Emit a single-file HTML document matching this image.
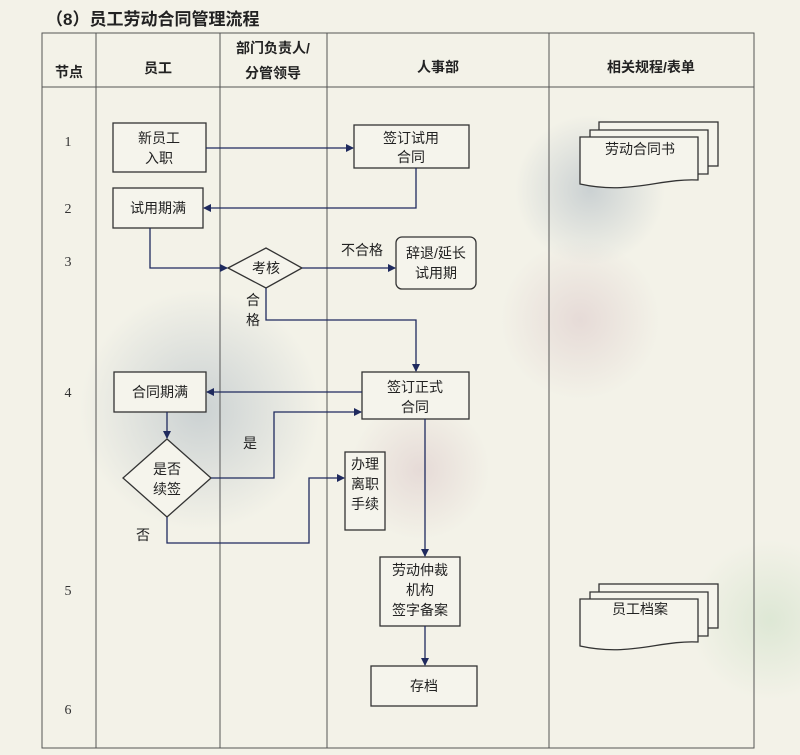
<!DOCTYPE html>
<html><head><meta charset="utf-8"><style>
body{margin:0;background:#f3f2e8;}
svg{display:block;font-family:"Liberation Sans","Noto Sans CJK SC",sans-serif;}
</style></head><body>
<svg width="800" height="755" viewBox="0 0 800 755">
<defs>
<marker id="a" markerWidth="8" markerHeight="8" refX="7" refY="4" orient="auto" markerUnits="userSpaceOnUse"><path d="M0,0 L8,4 L0,8 Z" fill="#1f2a5e"/></marker>
<radialGradient id="g1"><stop offset="0" stop-color="#9aa9b8" stop-opacity=".45"/><stop offset="1" stop-color="#9aa9b8" stop-opacity="0"/></radialGradient>
<radialGradient id="g2"><stop offset="0" stop-color="#d9c3c6" stop-opacity=".5"/><stop offset="1" stop-color="#d9c3c6" stop-opacity="0"/></radialGradient>
<radialGradient id="g3"><stop offset="0" stop-color="#cfe0c8" stop-opacity=".6"/><stop offset="1" stop-color="#cfe0c8" stop-opacity="0"/></radialGradient>
</defs>
<rect width="800" height="755" fill="#f3f2e8"/>
<circle cx="200" cy="410" r="120" fill="url(#g1)"/>
<circle cx="580" cy="320" r="80" fill="url(#g2)"/>
<circle cx="590" cy="190" r="75" fill="url(#g1)"/>
<circle cx="420" cy="470" r="70" fill="url(#g2)"/>
<circle cx="770" cy="620" r="80" fill="url(#g3)"/>
<text x="46" y="25" font-size="17" font-weight="bold" fill="#222">（8）员工劳动合同管理流程</text>
<g stroke="#555" stroke-width="1" fill="none">
<rect x="42" y="33" width="712" height="715"/>
<line x1="42" y1="87" x2="754" y2="87"/>
<line x1="96" y1="33" x2="96" y2="748"/>
<line x1="220" y1="33" x2="220" y2="748"/>
<line x1="327" y1="33" x2="327" y2="748"/>
<line x1="549" y1="33" x2="549" y2="748"/>
</g>
<g font-size="14" font-weight="bold" fill="#222" text-anchor="middle">
<text x="69" y="77">节点</text>
<text x="158" y="73">员工</text>
<text x="273" y="53">部门负责人/</text>
<text x="273" y="78">分管领导</text>
<text x="438" y="72">人事部</text>
<text x="651" y="72">相关规程/表单</text>
</g>
<g font-size="14" fill="#333" text-anchor="middle" font-family="Liberation Serif,serif">
<text x="68" y="146">1</text><text x="68" y="213">2</text><text x="68" y="266">3</text>
<text x="68" y="397">4</text><text x="68" y="595">5</text><text x="68" y="714">6</text>
</g>
<g stroke="#333" stroke-width="1.3" fill="#f5f4ec">
<rect x="113" y="123" width="93" height="49"/>
<rect x="354" y="125" width="115" height="43"/>
<rect x="113" y="188" width="90" height="40"/>
<polygon points="228,268 266,248 302,268 266,288"/>
<rect x="396" y="237" width="80" height="52" rx="6"/>
<rect x="362" y="372" width="107" height="47"/>
<rect x="114" y="372" width="92" height="40"/>
<polygon points="167,439 211,478 167,517 123,478"/>
<rect x="345" y="452" width="40" height="78"/>
<rect x="380" y="557" width="80" height="69"/>
<rect x="371" y="666" width="106" height="40"/>
<rect x="599" y="122" width="119" height="44"/>
<path d="M590,130 H708 V174 H590 Z"/>
<path d="M580,137 H698 V180 C660,178 630,195 580,184 Z"/>
<rect x="599" y="584" width="119" height="44"/>
<path d="M590,592 H708 V636 H590 Z"/>
<path d="M580,599 H698 V642 C660,640 630,657 580,646 Z"/>
</g>
<g stroke="#1f2a5e" stroke-width="1.3" fill="none" marker-end="url(#a)">
<line x1="206" y1="148" x2="353" y2="148"/>
<polyline points="416,168 416,208 204,208"/>
<polyline points="150,228 150,268 227,268"/>
<line x1="302" y1="268" x2="395" y2="268"/>
<polyline points="266,288 266,320 416,320 416,371"/>
<line x1="362" y1="392" x2="207" y2="392"/>
<line x1="167" y1="412" x2="167" y2="438"/>
<polyline points="211,478 274,478 274,412 361,412"/>
<polyline points="167,517 167,543 309,543 309,478 344,478"/>
<line x1="425" y1="419" x2="425" y2="556"/>
<line x1="425" y1="626" x2="425" y2="665"/>
</g>
<g font-size="14" fill="#222" text-anchor="middle">
<text x="159" y="143">新员工</text><text x="159" y="163">入职</text>
<text x="411" y="143">签订试用</text><text x="411" y="162">合同</text>
<text x="158" y="213">试用期满</text>
<text x="266" y="273">考核</text>
<text x="436" y="258">辞退/延长</text><text x="436" y="278">试用期</text>
<text x="362" y="255">不合格</text>
<text x="253" y="305">合</text><text x="253" y="325">格</text>
<text x="415" y="392">签订正式</text><text x="415" y="412">合同</text>
<text x="160" y="397">合同期满</text>
<text x="167" y="474">是否</text><text x="167" y="494">续签</text>
<text x="250" y="448">是</text>
<text x="143" y="540">否</text>
<text x="365" y="469">办理</text><text x="365" y="489">离职</text><text x="365" y="509">手续</text>
<text x="420" y="575">劳动仲裁</text><text x="420" y="595">机构</text><text x="420" y="615">签字备案</text>
<text x="424" y="691">存档</text>
<text x="640" y="154">劳动合同书</text>
<text x="640" y="614">员工档案</text>
</g>
</svg>
</body></html>
